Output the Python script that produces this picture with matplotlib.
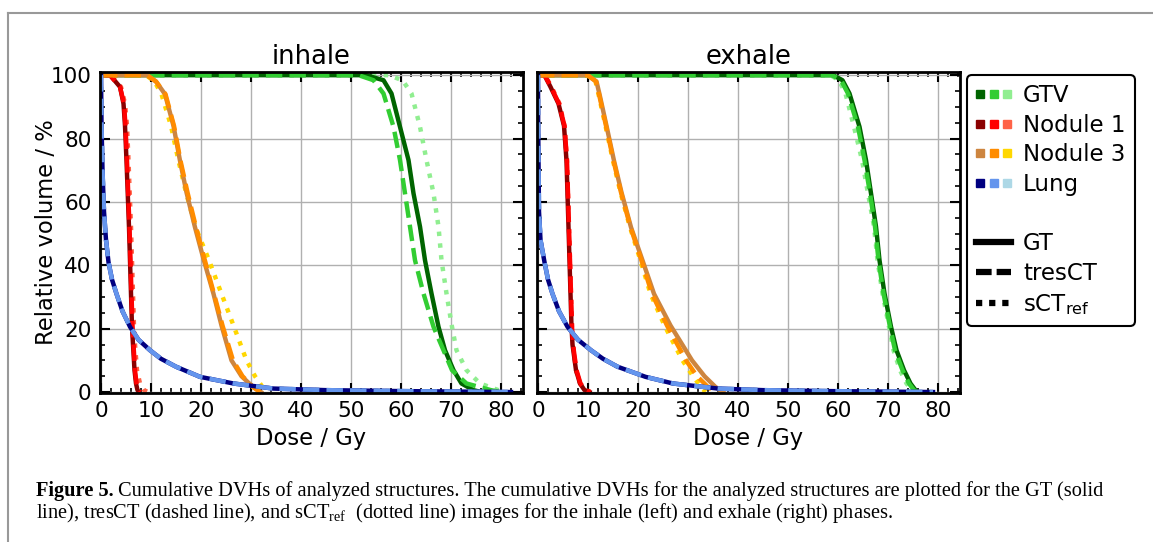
import matplotlib
matplotlib.use("Agg")
import matplotlib.pyplot as plt
from matplotlib.lines import Line2D
from matplotlib.ticker import MultipleLocator
from matplotlib.legend_handler import HandlerTuple

# structures and colours (GT, tresCT, sCT_ref)
structures = ["GTV", "Nodule 1", "Nodule 3", "Lung"]
colors = {
    "GTV": ["darkgreen", "limegreen", "lightgreen"],
    "Nodule 1": ["darkred", "red", "tomato"],
    "Nodule 3": ["peru", "darkorange", "gold"],
    "Lung": ["navy", "cornflowerblue", "lightblue"],
}
methods = ["GT", "tresCT", "sCT$_\\mathrm{ref}$"]
styles = ["-", "--", ":"]

# volume levels (%) for each structure, doses (Gy) read per phase / method
gtv_vol = [100, 100, 98.4, 94.2, 83.7, 73.2, 62.7, 52.2, 41.6, 31.1, 20.6, 13.2, 6.9, 2.7, 0.6, 0]
inh_gtv_gt = [0, 53, 56.5, 58.1, 59.8, 61.5, 62.5, 63.8, 64.8, 66.1, 67.5, 68.8, 70.5, 72.1, 74.5, 76]
inh_gtv_tres = [0, 51.5, 54.5, 56.5, 58.5, 59.8, 60.8, 61.8, 62.8, 64.5, 66.5, 68.5, 70.2, 73.1, 78, 80]
inh_gtv_sct = [0, 57.5, 60.3, 62.1, 63.8, 65.1, 66.5, 67.5, 68.1, 69.1, 70.2, 71.1, 73.1, 75.8, 79.5, 81]
exh_gtv_gt = [0, 59, 60.9, 62.3, 64.3, 65.6, 66.6, 67.6, 68.3, 69.3, 70.6, 71.7, 73.2, 74.5, 75.5, 76]
exh_gtv_tres = [0, 58.8, 60.6, 62.0, 64.0, 65.3, 66.4, 67.4, 68.1, 69.1, 70.4, 71.4, 72.9, 74.2, 75.2, 76]
exh_gtv_sct = [0, 58.5, 60.2, 61.5, 63.2, 64.8, 66.0, 67.2, 67.9, 68.9, 70.2, 71.1, 72.4, 73.7, 74.8, 75.5]

nod1_vol = [100, 100, 96.3, 91, 84, 73, 52, 31, 20.6, 15, 6.9, 2.7, 0.6, 0]
inh_nod1_gt = [0, 1.8, 3.8, 4.5, 4.8, 5.1, 5.6, 6.0, 6.2, 6.4, 6.7, 7.0, 7.3, 7.6]
inh_nod1_tres = [0, 1.8, 3.8, 4.6, 4.9, 5.2, 5.7, 6.1, 6.3, 6.5, 6.8, 7.1, 7.5, 7.8]
inh_nod1_sct = [0, 2.0, 4.0, 4.8, 5.2, 5.5, 6.0, 6.4, 6.6, 6.8, 7.2, 7.8, 8.6, 9.4]
exh_nod1_gt = [0, 1.3, 2.5, 4.1, 5.2, 5.7, 6.1, 6.5, 6.7, 6.9, 7.6, 8.4, 9.3, 10.3]
exh_nod1_tres = [0, 1.3, 2.6, 4.2, 5.3, 5.8, 6.2, 6.6, 6.8, 7.0, 7.7, 8.5, 9.5, 10.5]
exh_nod1_sct = [0, 1.4, 2.7, 4.3, 5.3, 5.8, 6.2, 6.6, 6.8, 7.0, 7.6, 8.4, 9.4, 10.6]

nod3_vol = [100, 100, 98, 94, 84, 73, 63, 52, 42, 31, 21, 10, 5, 1.6, 0]
inh_nod3_gt = [0, 9.2, 11.0, 12.8, 14.5, 15.8, 17.1, 18.8, 20.5, 22.5, 24.1, 26.1, 28.1, 30.4, 32.0]
inh_nod3_tres = [0, 9.2, 11.0, 12.9, 14.6, 15.9, 17.3, 19.0, 20.7, 22.6, 24.3, 26.4, 28.3, 30.4, 31.8]
inh_nod3_sct = [0, 9.0, 10.7, 12.1, 14.0, 15.5, 17.0, 18.9, 21.5, 24.1, 26.5, 29.1, 30.8, 32.3, 33.3]
exh_nod3_gt = [0, 9.9, 11.7, 12.3, 13.7, 15.2, 16.7, 18.6, 20.8, 23.2, 26.5, 30.8, 33.3, 35.5, 37.0]
exh_nod3_tres = [0, 9.9, 11.6, 12.2, 13.6, 15.1, 16.6, 18.5, 20.6, 22.8, 25.8, 29.6, 31.8, 34.0, 35.5]
exh_nod3_sct = [0, 9.8, 11.5, 12.1, 13.5, 15.0, 16.5, 18.4, 20.4, 22.5, 25.3, 28.9, 31.0, 32.6, 33.5]

lung_vol = [100, 85, 70, 57, 48, 41, 35.5, 31, 25.5, 20.6, 16.5, 13.2, 10.5, 8, 4.8, 2.7, 1.1, 0.6, 0.3, 0.1, 0]
inh_lung = [0, 0.1, 0.3, 0.6, 1.0, 1.5, 2.2, 3.1, 4.3, 5.8, 7.5, 9.8, 12, 15, 19.8, 26.5, 34.5, 45, 60, 75, 82]
exh_lung = [0, 0.03, 0.12, 0.2, 0.5, 1.3, 2.0, 2.9, 4.2, 5.9, 8.0, 10.6, 13.0, 15.9, 21.5, 27.0, 36, 45, 58, 72, 79]

phases = {
    "inhale": {
        "GTV": (gtv_vol, [inh_gtv_gt, inh_gtv_tres, inh_gtv_sct]),
        "Nodule 1": (nod1_vol, [inh_nod1_gt, inh_nod1_tres, inh_nod1_sct]),
        "Nodule 3": (nod3_vol, [inh_nod3_gt, inh_nod3_tres, inh_nod3_sct]),
        "Lung": (lung_vol, [inh_lung, inh_lung, inh_lung]),
    },
    "exhale": {
        "GTV": (gtv_vol, [exh_gtv_gt, exh_gtv_tres, exh_gtv_sct]),
        "Nodule 1": (nod1_vol, [exh_nod1_gt, exh_nod1_tres, exh_nod1_sct]),
        "Nodule 3": (nod3_vol, [exh_nod3_gt, exh_nod3_tres, exh_nod3_sct]),
        "Lung": (lung_vol, [exh_lung, exh_lung, exh_lung]),
    },
}

fs = 15.5      # tick labels
lab_fs = 16.3  # axis labels
tit_fs = 18.5  # titles
leg_fs = 16.5
W, H = 1153, 542
fig = plt.figure(figsize=(W / 100, H / 100), dpi=100)

lefts = [100, 537]
for i, (phase, data) in enumerate(phases.items()):
    ax = fig.add_axes([lefts[i] / W, 1 - 393 / H, 423 / W, 321 / H])
    for s in structures:
        vol, doses = data[s]
        # dotted first, then solid, dashed on top
        for k in [2, 0, 1]:
            ax.plot(doses[k], vol, color=colors[s][k], ls=styles[k], lw=3.2)
    ax.set_xlim(-0.2, 84.4)
    ax.set_ylim(-0.3, 101)
    ax.xaxis.set_major_locator(MultipleLocator(10))
    ax.xaxis.set_minor_locator(MultipleLocator(2))
    ax.yaxis.set_major_locator(MultipleLocator(20))
    ax.yaxis.set_minor_locator(MultipleLocator(5))
    ax.tick_params(which="both", direction="in", top=True, right=True, labelsize=fs, pad=6)
    ax.tick_params(which="major", length=7, width=1.5)
    ax.tick_params(which="minor", length=3.5, width=1.2)
    ax.grid(True, which="major", color="#b0b0b0", lw=1)
    ax.set_axisbelow(True)
    for sp in ax.spines.values():
        sp.set_linewidth(2)
    ax.set_title(phase, fontsize=tit_fs, pad=5.5)
    ax.set_xlabel("Dose / Gy", fontsize=lab_fs)
    ax.xaxis.set_label_coords(0.5, -0.105)
    if i == 0:
        ax.set_ylabel("Relative volume / %", fontsize=lab_fs)
        ax.yaxis.set_label_coords(-0.10, 0.5)
    else:
        ax.tick_params(labelleft=False)

# legend
def square(c):
    return Line2D([], [], ls="none", marker="s", ms=6, color=c, mec=c)

handles = [tuple(square(c) for c in colors[s]) for s in structures]
handles.append(Line2D([], [], ls="none"))
handles.append(Line2D([], [], color="k", lw=4.5, ls="-"))
handles.append(Line2D([], [], color="k", lw=4.5, ls=(0, (2.5, 0.8))))
handles.append(Line2D([], [], color="k", lw=4.5, ls=(0, (1, 1.1))))
labels = structures + [""] + methods
leg = fig.legend(handles, labels, handler_map={tuple: HandlerTuple(ndivide=None, pad=0.24)},
                 loc="upper left", bbox_to_anchor=(967 / W, 1 - 75 / H), borderaxespad=0,
                 fontsize=leg_fs, handlelength=1.53, handletextpad=0.52, labelspacing=0.29,
                 framealpha=1, edgecolor="k", fancybox=True)
leg.get_frame().set_linewidth(1.5)

# grey page border (top and left)
fig.add_artist(Line2D([8 / W, 8 / W], [0, 1 - 12.5 / H], transform=fig.transFigure, color="#999999", lw=1.5))
fig.add_artist(Line2D([8 / W, 1], [1 - 12.5 / H, 1 - 12.5 / H], transform=fig.transFigure, color="#999999", lw=1.5))

# caption
cap_fs = 14.65
serif = ["Liberation Serif", "DejaVu Serif"]
t1 = fig.text(36 / W, 1 - 496 / H, "Figure 5.", family=serif, fontweight="bold", fontsize=cap_fs, va="baseline")
fig.canvas.draw()
bb = t1.get_window_extent(fig.canvas.get_renderer())
fig.text(bb.x1 / W + 4 / W, 1 - 496 / H,
         "Cumulative DVHs of analyzed structures. The cumulative DVHs for the analyzed structures are plotted for the GT (solid",
         family=serif, fontsize=cap_fs, va="baseline")
fig.text(36 / W, 1 - 518 / H,
         "line), tresCT (dashed line), and sCT$_\\mathregular{ref}$  (dotted line) images for the inhale (left) and exhale (right) phases.",
         family=serif, fontsize=cap_fs, va="baseline")

fig.savefig("out.png", dpi=100)
